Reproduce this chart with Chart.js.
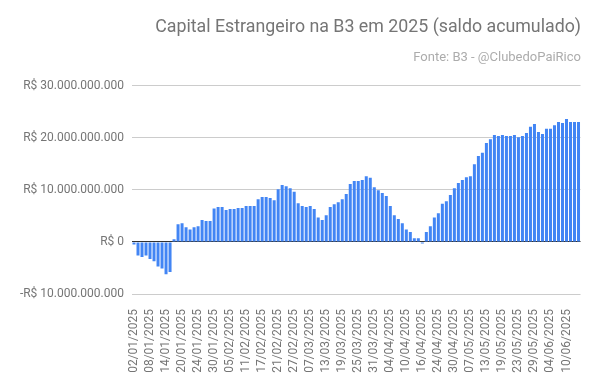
<!DOCTYPE html>
<html>
<head>
<meta charset="utf-8">
<script src="https://cdn.jsdelivr.net/npm/chart.js@4"></script>
<style>
  html, body { margin: 0; padding: 0; background: #fff; }
  #wrap { width: 600px; height: 385px; }
</style>
</head>
<body>
<div id="wrap"><canvas id="saldoChart"></canvas></div>
<script>
// trading days per month (B3, 2025)
const diasJan = ['02','03','06','07','08','09','10','13','14','15','16','17','20','21','22','23','24','27','28','29','30','31'];
const diasFev = ['03','04','05','06','07','10','11','12','13','14','17','18','19','20','21','24','25','26','27','28'];
const diasMar = ['05','06','07','10','11','12','13','14','17','18','19','20','21','24','25','26','27','28','31'];
const diasAbr = ['01','02','03','04','07','08','09','10','11','14','15','16','17','22','23','24','25','28','29','30'];
const diasMai = ['02','05','06','07','08','09','12','13','14','15','16','19','20','21','22','23','26','27','28','29','30'];
const diasJun = ['02','03','04','05','06','09','10','11','12','13'];

// accumulated balance, billions of R$
const saldoJan = [-0.5, -2.6, -2.9, -2.6, -3.3, -3.7, -4.7, -5.1, -6.2, -5.8, 0.5, 3.4, 3.6, 2.8, 2.4, 2.8, 3.0, 4.2, 4.0, 4.0, 6.4, 6.7];
const saldoFev = [6.7, 6.1, 6.3, 6.3, 6.5, 6.5, 6.9, 6.9, 6.9, 8.2, 8.6, 8.6, 8.4, 8.0, 10.1, 10.9, 10.7, 10.3, 9.6, 7.4];
const saldoMar = [6.9, 6.7, 6.9, 6.3, 4.7, 4.2, 5.1, 6.7, 7.2, 7.6, 8.2, 9.2, 11.1, 11.7, 11.7, 11.9, 12.6, 12.3, 10.5];
const saldoAbr = [9.9, 9.4, 8.8, 6.9, 5.1, 4.4, 3.6, 2.4, 1.9, 0.7, 0.7, -0.3, 1.9, 3.0, 4.7, 5.5, 7.3, 7.8, 9.0, 10.3];
const saldoMai = [11.3, 11.9, 12.4, 12.6, 14.9, 16.5, 17.1, 19.0, 19.7, 20.5, 20.3, 20.5, 20.3, 20.3, 20.5, 20.1, 20.3, 20.9, 22.1, 22.6, 21.1];
const saldoJun = [20.7, 21.7, 21.7, 22.4, 23.0, 22.8, 23.6, 23.0, 23.0, 23.0];

const yMin = -10, yMax = 30, yStep = 10;

const labels = [
  ...diasJan.map(d => `${d}/01/2025`),
  ...diasFev.map(d => `${d}/02/2025`),
  ...diasMar.map(d => `${d}/03/2025`),
  ...diasAbr.map(d => `${d}/04/2025`),
  ...diasMai.map(d => `${d}/05/2025`),
  ...diasJun.map(d => `${d}/06/2025`),
];
const saldo = [...saldoJan, ...saldoFev, ...saldoMar, ...saldoAbr, ...saldoMai, ...saldoJun];

const fmtReais = v => {
  const n = Math.round(Math.abs(v) * 1e9).toString().replace(/\B(?=(\d{3})+(?!\d))/g, '.');
  return (v < 0 ? '-R$ ' : 'R$ ') + n;
};

Chart.defaults.font.family = 'Roboto';
Chart.defaults.color = '#757575';

const ctx = document.getElementById('saldoChart').getContext('2d');
new Chart(ctx, {
  type: 'bar',
  data: {
    labels: labels,
    datasets: [
      {
        label: 'Saldo acumulado',
        data: saldo,
        backgroundColor: '#4285f4',
        categoryPercentage: 1,
        barPercentage: 0.75,
      },
    ],
  },
  options: {
    responsive: true,
    maintainAspectRatio: false,
    animation: false,
    layout: { padding: { top: 0, right: 19, bottom: 0, left: 0 } },
    scales: {
      x: {
        grid: { display: false },
        border: { display: false },
        afterFit: s => { s.height = 91; },
        ticks: {
          autoSkip: false,
          maxRotation: 90,
          minRotation: 90,
          padding: 7,
          color: '#757575',
          font: { size: 12 },
          callback: (val, i) => (i % 4 === 0 ? labels[i] : ''),
        },
      },
      y: {
        min: yMin,
        max: yMax,
        border: { display: false },
        afterFit: s => { s.width = 132; },
        grid: {
          drawTicks: false,
          color: c => (c.tick && c.tick.value === 0 ? '#333' : '#cccccc'),
        },
        ticks: {
          stepSize: yStep,
          padding: 8,
          color: '#757575',
          font: { size: 12 },
          callback: v => fmtReais(v),
        },
      },
    },
    plugins: {
      legend: false,
      tooltip: { enabled: false },
      title: {
        display: true,
        text: 'Capital Estrangeiro na B3 em 2025 (saldo acumulado)',
        align: 'end',
        color: '#757575',
        font: { size: 17.8, weight: 'normal' },
        padding: { top: 17, bottom: 0 },
      },
      subtitle: {
        display: true,
        text: 'Fonte: B3 - @ClubedoPaiRico',
        align: 'end',
        color: '#acacac',
        font: { size: 13, weight: 'normal' },
        padding: { top: 12, bottom: 19.6 },
      },
    },
  },
});
</script>
</body>
</html>
